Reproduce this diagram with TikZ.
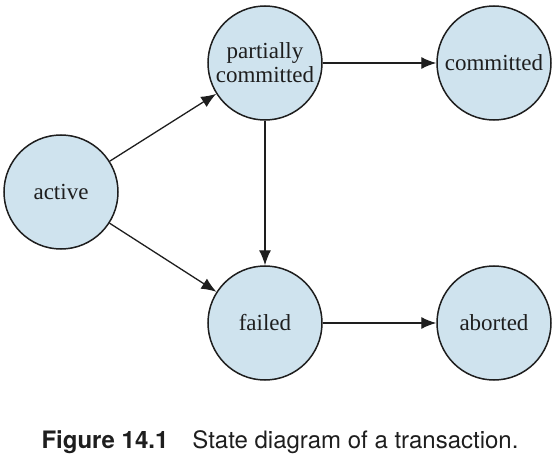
\documentclass[tikz,border=0pt]{standalone}
\usepackage{fontspec}
\setmainfont{Liberation Serif}
\newfontfamily\capfont{TeX Gyre Heros}
\usetikzlibrary{arrows.meta}
\definecolor{statefill}{RGB}{207,227,238}
\definecolor{ink}{RGB}{30,30,30}
\tikzset{
  state/.style={circle, draw=ink, line width=1.5pt, fill=statefill, minimum size=114pt, inner sep=0pt, align=center, font=\fontsize{23}{24}\selectfont, text=ink},
  trans/.style={draw=ink, line width=1.3pt, -{Latex[length=15pt,width=12pt]}}
}
\begin{document}
\begin{tikzpicture}[x=1pt,y=-1pt]
\useasboundingbox (0,0) rectangle (558,460);
\node[state] (active) at (61,192) {active};
\node[state] (pc) at (265,63) {partially\\committed};
\node[state] (committed) at (494,63) {committed};
\node[state] (failed) at (265,323) {failed};
\node[state] (aborted) at (494,323) {aborted};
\draw[trans] (active) -- (pc);
\draw[trans] (active) -- (failed);
\draw[trans] (pc) -- (committed);
\draw[trans] (pc) -- (failed);
\draw[trans] (failed) -- (aborted);
\node[font=\capfont\fontsize{24}{26}\selectfont, text=ink, anchor=base] (caption) at (280,448) {\textbf{Figure 14.1}\hspace{24pt}State diagram of a transaction.};
\end{tikzpicture}
\end{document}
